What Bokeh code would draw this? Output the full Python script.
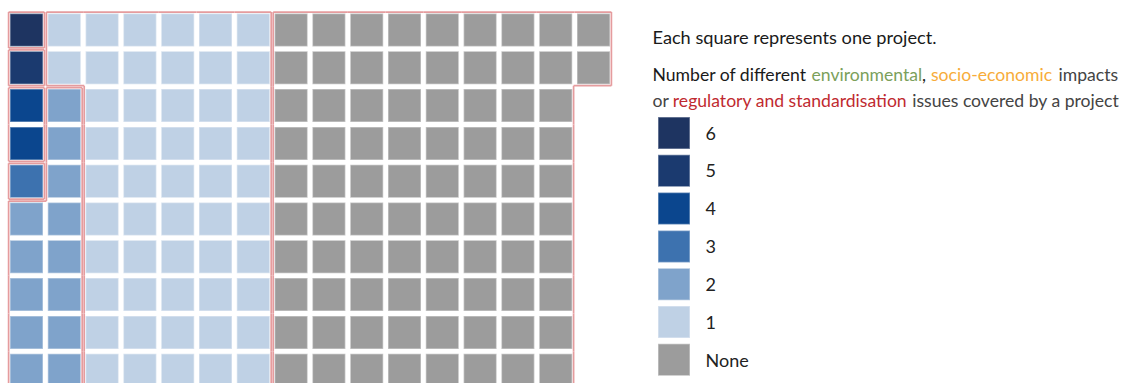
import math
from bokeh.plotting import figure
from bokeh.models import Range1d
from bokeh.core.properties import value
from bokeh.embed import file_html
from bokeh.resources import INLINE

# ---------------- data ----------------
categories = ["6", "5", "4", "3", "2", "1", "None"]
counts = [1, 1, 2, 1, 13, 52, 82]
colors = ["#1E3461", "#1B3A6F", "#0B468E", "#3D72AF", "#7FA3CB", "#BFD1E5", "#9C9C9C"]
n_rows = 10

title_text = "Each square represents one project."
line2_parts = ["Number of different", "environmental", ",", "socio-economic", "impacts"]
line2_colors = ["#1A1A1A", "#7BA05B", "#1A1A1A", "#F7AC3A", "#444444"]
line3_parts = ["or", "regulatory and standardisation", "issues covered by a project"]
line3_colors = ["#444444", "#BF2A30", "#444444"]

# ---------------- layout (pixel-like units) ----------------
X0, Y0, PITCH, CELL = 26.0, 29.5, 37.8, 34.0
INSET = 1.0
FONT = "Lato"
FS = "17.6px"

H = n_rows
seq_up = [(c, r) for c in range(64) for r in range(H - 1, -1, -1)]
n_multi = sum(counts[:5])
block = sorted(seq_up[:n_multi])          # top-down inside the multi-issue block
cells = {}
i = 0
for cat, n in zip(categories[:5], counts[:5]):
    for _ in range(n):
        cells[block[i]] = cat
        i += 1
for cr in seq_up[n_multi:n_multi + counts[5]]:
    cells[cr] = categories[5]
used_cols = math.ceil((n_multi + counts[5]) / H)
seq_down = [(c, r) for c in range(used_cols, 64) for r in range(H)]
for cr in seq_down[:counts[6]]:
    cells[cr] = categories[6]

color_of = dict(zip(categories, colors))
cx = [X0 + c * PITCH for (c, r) in cells]
cy = [Y0 + r * PITCH for (c, r) in cells]
cc = [color_of[v] for v in cells.values()]

p = figure(width=1124, height=383, x_range=Range1d(0, 1124), y_range=Range1d(383, 0),
           output_backend="svg", toolbar_location=None, min_border=0,
           x_axis_type=None, y_axis_type=None, background_fill_color="white")
p.outline_line_color = None
p.grid.visible = False

p.rect(x=cx, y=cy, width=CELL - 1, height=CELL - 1, fill_color=cc,
       line_color="white", line_alpha=0.4, line_width=1.5)

# region outlines
half = PITCH / 2
sx0, sy0, sx1, sy1 = [], [], [], []
for (c, r), cat in cells.items():
    for (dc, dr) in [(0, -1), (0, 1), (-1, 0), (1, 0)]:
        if cells.get((c + dc, r + dr)) == cat:
            continue
        ccx, ccy = X0 + c * PITCH, Y0 + r * PITCH
        if dr != 0:
            y = ccy + dr * (half - INSET)
            ends = []
            for e in (-1, 1):
                a = (c + e, r)
                d = (c + e, r + dr)
                lat = ccx + e * half
                if cells.get(a) != cat:
                    ends.append(lat - e * INSET)
                elif cells.get(d) == cat:
                    ends.append(lat + e * INSET)
                else:
                    ends.append(lat)
            sx0.append(ends[0]); sx1.append(ends[1]); sy0.append(y); sy1.append(y)
        else:
            x = ccx + dc * (half - INSET)
            ends = []
            for e in (-1, 1):
                a = (c, r + e)
                d = (c + dc, r + e)
                lat = ccy + e * half
                if cells.get(a) != cat:
                    ends.append(lat - e * INSET)
                elif cells.get(d) == cat:
                    ends.append(lat + e * INSET)
                else:
                    ends.append(lat)
            sy0.append(ends[0]); sy1.append(ends[1]); sx0.append(x); sx1.append(x)
p.segment(x0=sx0, y0=sy0, x1=sx1, y1=sy1, line_color="#E59C9E", line_width=1.7)

# legend
LX, LY, LSTEP, LSIZE = 673.5, 132.5, 37.8, 33.0
ly = [LY + k * LSTEP for k in range(len(categories))]
p.rect(x=[LX] * len(categories), y=ly, width=LSIZE - 1, height=LSIZE - 1,
       fill_color=colors, line_color="white", line_alpha=0.4, line_width=1.5)
p.text(x=[705] * len(categories), y=ly, text=categories, text_font=value(FONT),
       text_font_size="18px", text_color="#222222", text_baseline="middle", text_align="left")

# header texts
p.text(x=[652], y=[36], text=[title_text], text_font=value(FONT), text_font_size="18.2px",
       text_color="#1A1A1A", text_baseline="alphabetic")
p.text(x=[652, 811, 921.5, 930.5, 1058], y=[74] * 5, text=line2_parts, text_color=line2_colors,
       text_font=value(FONT), text_font_size=FS, text_baseline="alphabetic")
p.text(x=[652, 672.3, 911.7], y=[99.5] * 3, text=line3_parts, text_color=line3_colors,
       text_font=value(FONT), text_font_size=FS, text_baseline="alphabetic")

open("out.html", "w").write(file_html(p, INLINE))
